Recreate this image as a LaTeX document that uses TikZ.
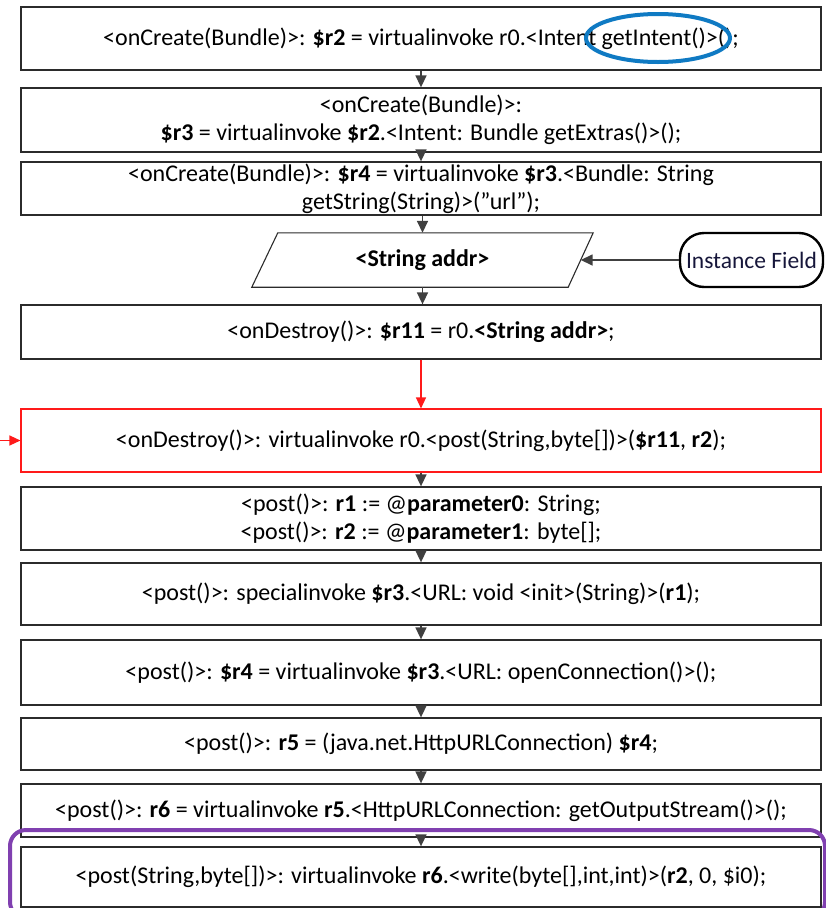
\documentclass[tikz,border=0pt]{standalone}
\usepackage{fontspec}
\setmainfont{Carlito}[Ligatures=ResetAll]
\usetikzlibrary{arrows.meta,calc,shapes.geometric}
\definecolor{boxline}{HTML}{2B2B2B}
\definecolor{arrowgray}{HTML}{404040}
\definecolor{hlblue}{HTML}{0F7AC3}
\definecolor{hlpurple}{RGB}{128,64,176}
\definecolor{alertred}{HTML}{FF1A1A}
\definecolor{fieldtext}{HTML}{16163A}
\begin{document}
\begin{tikzpicture}[x=1pt,y=-1pt,
  stmt/.style={draw=boxline, line width=1.3pt, minimum width=800pt, inner sep=0pt,
    align=center, font=\fontsize{24}{28}\selectfont},
  alertbox/.style={stmt, draw=alertred, line width=1.1pt},
  flow/.style={-{Triangle[width=11pt,length=12pt]}, draw=arrowgray, fill=arrowgray, line width=1.6pt},
  redflow/.style={-{Triangle[width=10pt,length=11pt]}, draw=alertred, fill=alertred, line width=1.3pt},
  fieldbox/.style={draw=black, line width=2.4pt, rounded corners=24pt, minimum width=143pt,
    minimum height=54pt, inner sep=0pt, text=fieldtext, font=\fontsize{23.5}{28}\selectfont},
  hlring/.style={ellipse, draw=hlblue, line width=4pt, minimum width=144pt, minimum height=48pt, inner sep=0pt},
  hlframe/.style={draw=hlpurple, line width=4pt, rounded corners=16pt}
]
\useasboundingbox (0,0) rectangle (825,908);

% statement boxes, top to bottom
\node[stmt, minimum height=63pt] (b1) at (421,38.5)
  {<onCreate(Bundle)>: \textbf{\$r2} = virtualinvoke r0.<Intent getIntent()>();};
\node[stmt, minimum height=64pt] (b2) at (421,120)
  {<onCreate(Bundle)>:\\ \textbf{\$r3} = virtualinvoke \textbf{\$r2}.<Intent: Bundle getExtras()>();};
\node[stmt, minimum height=53pt] (b3) at (421,188.5)
  {<onCreate(Bundle)>: \textbf{\$r4} = virtualinvoke \textbf{\$r3}.<Bundle: String\\ getString(String)>("url");};

% field storage (parallelogram) and its source
\node[minimum width=341pt, minimum height=54pt, inner sep=0pt,
  font=\fontsize{24}{28}\selectfont\bfseries] (addr) at (422.5,260) {<String addr>};
\draw[draw=boxline, line width=1.1pt]
  ($(addr.north west)+(26,0)$) -- (addr.north east) -- ($(addr.south east)+(-25,0)$)
  -- (addr.south west) -- cycle;
\coordinate (addrR) at ($(addr.east)+(-12.5,0)$);
\node[fieldbox] (field) at (751.5,260) {Instance Field};

\node[stmt, minimum height=54pt] (b5) at (421,332)
  {<onDestroy()>: \textbf{\$r11} = r0.\textbf{<String addr>};};
\node[alertbox, minimum height=63pt] (b6) at (421,440.5)
  {<onDestroy()>: virtualinvoke r0.<post(String,byte[])>(\textbf{\$r11}, \textbf{r2});};
\node[stmt, minimum height=63pt] (b7) at (421,518.5)
  {<post()>: \textbf{r1} := @\textbf{parameter0}: String;\\ <post()>: \textbf{r2} := @\textbf{parameter1}: byte[];};
\node[stmt, minimum height=62pt] (b8) at (421,594)
  {<post()>: specialinvoke \textbf{\$r3}.<URL: void <init>(String)>(\textbf{r1});};
\node[stmt, minimum height=65pt] (b9) at (421,672.5)
  {<post()>: \textbf{\$r4} = virtualinvoke \textbf{\$r3}.<URL: openConnection()>();};
\node[stmt, minimum height=52pt] (b10) at (421,744)
  {<post()>: \textbf{r5} = (java.net.HttpURLConnection) \textbf{\$r4};};
\node[stmt, minimum height=53pt] (b11) at (421,810.5)
  {<post()>: \textbf{r6} = virtualinvoke \textbf{r5}.<HttpURLConnection: getOutputStream()>();};
\node[stmt, minimum height=60pt] (b12) at (421,877)
  {<post(String,byte[])>: virtualinvoke \textbf{r6}.<write(byte[],int,int)>(\textbf{r2}, 0, \$i0);};

% connectors
\draw[flow] (b1) -- (b2);
\draw[flow] (b2) -- (b3);
\draw[flow] (b3.south -| addr.north) -- (addr.north);
\draw[flow] (addr.south) -- (b5.north -| addr.south);
\draw[flow] (field) -- (addrR);
\draw[redflow] (b5) -- (b6);
\coordinate (entry) at (0,440.5);
\draw[redflow] (entry) -- (b6.west);
\draw[flow] (b6) -- (b7);
\draw[flow] (b7) -- (b8);
\draw[flow] (b8) -- (b9);
\draw[flow] (b9) -- (b10);
\draw[flow] (b10) -- (b11);

% highlights
\node[hlring] (ring) at (658,38) {};
\node[hlframe, minimum width=815pt, minimum height=88pt, inner sep=0pt] (frame) at (417.5,874) {};
\draw[flow] (b11) -- (b12);
\end{tikzpicture}
\end{document}
